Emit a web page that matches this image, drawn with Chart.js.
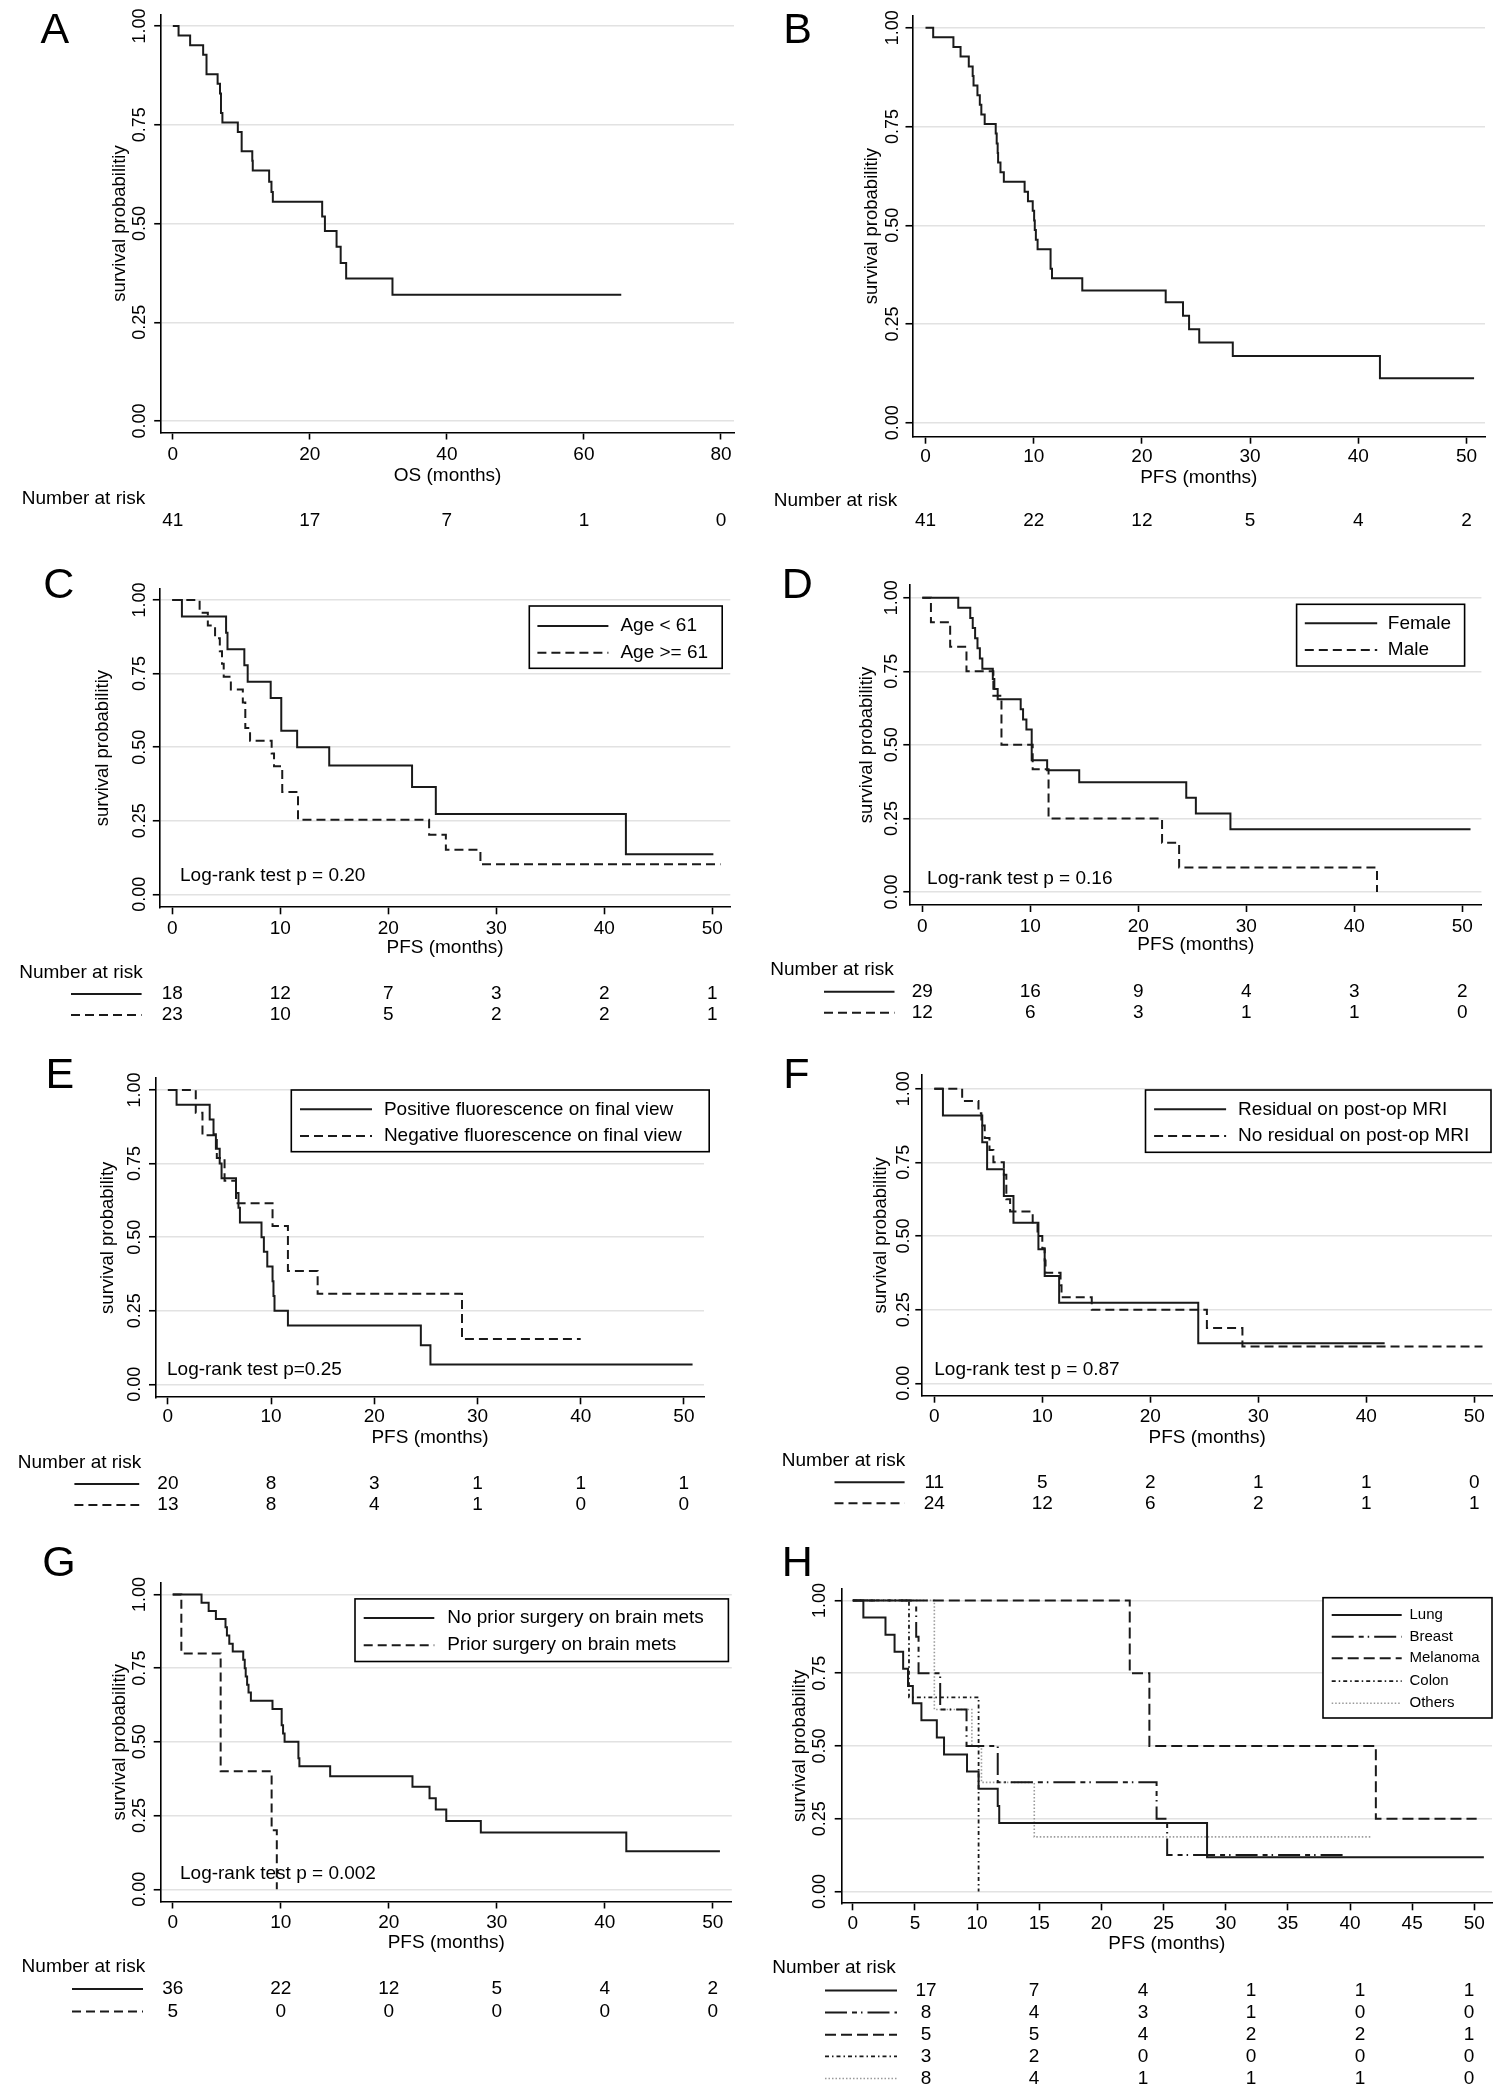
<!DOCTYPE html>
<html><head><meta charset="utf-8">
<script src="https://cdn.jsdelivr.net/npm/chart.js@4.4.1/dist/chart.umd.min.js"></script>
<style>
html,body{margin:0;padding:0;background:#fff}
body{position:relative;width:1503px;height:2100px;overflow:hidden}
canvas{position:absolute}
</style></head>
<body>
<script>
// ---------------- DATA ----------------
const ticksOS = [0, 20, 40, 60, 80];
const ticksPFS = [0, 10, 20, 30, 40, 50];
const ticksH = [0, 5, 10, 15, 20, 25, 30, 35, 40, 45, 50];
const yTickVals = [0, 0.25, 0.5, 0.75, 1];

// Panel A: OS
const aTime = [0, 0.84, 2.53, 4.43, 4.92, 6.54, 6.89, 7.03, 7.24, 9.49, 10.05, 11.6, 11.67, 14.06, 14.4, 14.6, 21.8, 22.2, 23.9, 24.5, 25.3, 32.06, 65.45];
const aSurv = [1, 0.976, 0.951, 0.927, 0.878, 0.854, 0.829, 0.780, 0.756, 0.732, 0.683, 0.659, 0.634, 0.606, 0.580, 0.555, 0.518, 0.481, 0.441, 0.400, 0.361, 0.320, 0.320];
const riskA = [41, 17, 7, 1, 0];

// Panel B: PFS
const bTime = [0, 0.71, 2.58, 3.24, 4.0, 4.36, 4.44, 4.8, 5.02, 5.16, 5.47, 6.49, 6.58, 6.67, 6.71, 6.93, 7.24, 9.16, 9.47, 9.91, 10.04, 10.1, 10.2, 10.36, 11.56, 11.69, 14.49, 22.2, 23.8, 24.36, 25.3, 28.4, 42.0, 50.7];
const bSurv = [1, 0.976, 0.951, 0.927, 0.902, 0.878, 0.854, 0.829, 0.805, 0.780, 0.756, 0.732, 0.707, 0.683, 0.659, 0.634, 0.610, 0.585, 0.561, 0.537, 0.512, 0.488, 0.463, 0.439, 0.390, 0.366, 0.335, 0.305, 0.271, 0.237, 0.203, 0.169, 0.113, 0.113];
const riskB = [41, 22, 12, 5, 4, 2];

// Panel C: age
const cYoungTime = [0, 0.89, 4.98, 5.11, 6.67, 6.98, 9.11, 10.09, 11.56, 14.53, 22.2, 24.4, 42.0, 50.1];
const cYoungSurv = [1, 0.944, 0.889, 0.833, 0.778, 0.722, 0.667, 0.556, 0.500, 0.438, 0.365, 0.273, 0.136, 0.136];
const cOldTime = [0, 2.53, 3.29, 3.96, 4.4, 4.6, 4.76, 5.42, 6.53, 6.76, 7.2, 9.2, 9.42, 10.18, 11.64, 23.78, 25.33, 28.53, 50.76];
const cOldSurv = [1, 0.957, 0.913, 0.870, 0.826, 0.783, 0.739, 0.696, 0.652, 0.565, 0.522, 0.478, 0.435, 0.348, 0.253, 0.202, 0.151, 0.102, 0.102];
const legendC = ['Age < 61', 'Age >= 61'];
const riskC = [[18, 12, 7, 3, 2, 1], [23, 10, 5, 2, 2, 1]];

// Panel D: sex
const dFemaleTime = [0, 3.33, 4.44, 4.67, 4.89, 5.11, 5.33, 5.56, 6.53, 6.67, 6.98, 9.11, 9.33, 9.64, 10.13, 11.56, 14.53, 24.44, 25.33, 28.53, 50.76];
const dFemaleSurv = [1, 0.966, 0.931, 0.897, 0.862, 0.828, 0.793, 0.759, 0.724, 0.690, 0.655, 0.621, 0.586, 0.552, 0.448, 0.414, 0.373, 0.320, 0.267, 0.213, 0.213];
const dMaleTime = [0, 0.8, 2.58, 4.09, 6.58, 7.33, 10.22, 11.69, 22.2, 23.78, 42.1];
const dMaleSurv = [1, 0.917, 0.833, 0.750, 0.667, 0.500, 0.417, 0.250, 0.167, 0.083, 0];
const legendD = ['Female', 'Male'];
const riskD = [[29, 16, 9, 4, 3, 2], [12, 6, 3, 1, 1, 0]];

// Panel E: fluorescence
const ePosTime = [0, 0.84, 4.05, 4.42, 4.65, 5.02, 5.2, 6.6, 6.84, 6.98, 9.07, 9.3, 9.63, 10.14, 10.23, 10.33, 11.63, 24.51, 25.44, 50.84];
const ePosSurv = [1, 0.95, 0.90, 0.85, 0.80, 0.75, 0.70, 0.65, 0.60, 0.55, 0.50, 0.45, 0.40, 0.35, 0.30, 0.25, 0.20, 0.133, 0.067, 0.067];
const eNegTime = [0, 2.7, 3.35, 4.74, 5.49, 6.6, 10.14, 11.63, 14.51, 28.5, 40.0];
const eNegSurv = [1, 0.923, 0.846, 0.769, 0.692, 0.615, 0.538, 0.385, 0.308, 0.154, 0.154];
const legendE = ['Positive fluorescence on final view', 'Negative fluorescence on final view'];
const riskE = [[20, 8, 3, 1, 1, 1], [13, 8, 4, 1, 0, 0]];

// Panel F: residual
const fResTime = [0, 0.8, 4.44, 4.89, 6.44, 7.33, 9.64, 10.22, 11.56, 24.44, 41.7];
const fResSurv = [1, 0.909, 0.818, 0.727, 0.636, 0.545, 0.455, 0.364, 0.273, 0.136, 0.136];
const fNoResTime = [0, 2.58, 4.09, 4.36, 4.67, 5.11, 5.47, 6.44, 6.67, 7.02, 9.11, 9.56, 10.0, 10.22, 10.3, 11.69, 11.78, 14.58, 25.24, 28.53, 50.76];
const fNoResSurv = [1, 0.958, 0.917, 0.875, 0.833, 0.792, 0.750, 0.708, 0.625, 0.583, 0.542, 0.500, 0.458, 0.417, 0.375, 0.333, 0.292, 0.250, 0.188, 0.125, 0.125];
const legendF = ['Residual on post-op MRI', 'No residual on post-op MRI'];
const riskF = [[11, 5, 2, 1, 1, 0], [24, 12, 6, 2, 1, 1]];

// Panel G: prior surgery
const gNoPriorTime = [0, 2.67, 3.33, 4.0, 4.89, 5.02, 5.24, 5.56, 6.53, 6.67, 6.76, 6.89, 7.02, 7.24, 9.24, 10.09, 10.22, 10.36, 11.64, 11.73, 14.58, 22.2, 23.78, 24.36, 25.33, 28.53, 42.0, 50.67];
const gNoPriorSurv = [1, 0.972, 0.944, 0.917, 0.889, 0.861, 0.833, 0.806, 0.778, 0.750, 0.722, 0.694, 0.667, 0.639, 0.611, 0.556, 0.528, 0.500, 0.444, 0.417, 0.383, 0.348, 0.309, 0.271, 0.232, 0.193, 0.129, 0.129];
const gPriorTime = [0, 0.8, 4.44, 9.16, 9.64];
const gPriorSurv = [1, 0.8, 0.4, 0.2, 0];
const legendG = ['No prior surgery on brain mets', 'Prior surgery on brain mets'];
const riskG = [[36, 22, 12, 5, 4, 2], [5, 0, 0, 0, 0, 0]];

// Panel H: primary tumour
const hLungTime = [0, 0.85, 2.63, 3.36, 4.05, 4.44, 4.83, 5.52, 6.76, 7.34, 9.19, 10.12, 11.66, 11.78, 28.5, 50.77];
const hLungSurv = [1, 0.941, 0.882, 0.824, 0.765, 0.706, 0.647, 0.588, 0.529, 0.471, 0.412, 0.353, 0.294, 0.235, 0.118, 0.118];
const hBreastTime = [0, 5.1, 5.29, 7.03, 9.15, 11.66, 24.44, 25.29, 39.58];
const hBreastSurv = [1, 0.875, 0.75, 0.625, 0.5, 0.375, 0.25, 0.125, 0.125];
const hMelTime = [0, 22.28, 23.86, 42.08, 50.19];
const hMelSurv = [1, 0.75, 0.5, 0.25, 0.25];
const hColonTime = [0, 4.52, 10.12];
const hColonSurv = [1, 0.667, 0];
const hOtherTime = [0, 6.56, 9.58, 10.35, 14.6, 41.7];
const hOtherSurv = [1, 0.625, 0.5, 0.375, 0.1875, 0.1875];
const legendH = ['Lung', 'Breast', 'Melanoma', 'Colon', 'Others'];
const riskH = [[17, 7, 4, 1, 1, 1], [8, 4, 3, 1, 0, 0], [5, 5, 4, 2, 2, 1], [3, 2, 0, 0, 0, 0], [8, 4, 1, 1, 1, 0]];

// ---------------- STYLE / LAYOUT ----------------
const FONT = '"Liberation Sans", Arial, Helvetica, sans-serif';
const INK = '#1a1a1a';
const STYLE = {
  solid: {dash: [], color: INK, width: 2},
  dash: {dash: [9, 5], color: INK, width: 2},
  longdashdot: {dash: [22, 5, 5, 4, 1.5, 5], color: INK, width: 2},
  longdash: {dash: [11, 5], color: INK, width: 2},
  dashdotdot: {dash: [4, 3, 1.5, 3], color: INK, width: 1.8},
  dot: {dash: [1.5, 2], color: '#9a9a9a', width: 1.6}
};

const panels = [
  {id: 'A', box: [0, 0, 752, 540], L: 161.2, R: 734, T: 14.5, B: 432.5, x0: 172.8, xu: 6.852, y1: 26.0, y0: 421.1,
   tickY: 454.3, titleY: 475.8, yTickX: 139.4, yTitleX: 120.4, letter: [40.5, 43], nar: [21.7, 498.3],
   riskY: [520.8], riskLine: null, riskX: null, xTicks: ticksOS, riskTicks: ticksOS, xTitle: 'OS (months)', yTitle: 'survival probabilitiy',
   series: [[aTime, aSurv, 'solid']], labels: null, risk: [riskA], legend: null, logrank: null},
  {id: 'B', box: [752, 0, 751, 540], L: 912.5, R: 1485, T: 15.6, B: 436.7, x0: 925.5, xu: 10.82, y1: 27.7, y0: 422.8,
   tickY: 456.7, titleY: 477.5, yTickX: 891.6, yTitleX: 872.4, letter: [783.3, 43], nar: [773.7, 500.7],
   riskY: [520.8], riskLine: null, riskX: null, xTicks: ticksPFS, riskTicks: ticksPFS, xTitle: 'PFS (months)', yTitle: 'survival probabilitiy',
   series: [[bTime, bSurv, 'solid']], labels: null, risk: [riskB], legend: null, logrank: null},
  {id: 'C', box: [0, 540, 752, 490], L: 159.8, R: 730.3, T: 589, B: 907.3, x0: 172.3, xu: 10.8, y1: 600, y0: 894.3,
   tickY: 928.3, titleY: 947.3, yTickX: 139.2, yTitleX: 103.2, letter: [43.2, 598.3], nar: [19.2, 972.3],
   riskY: [994, 1015], riskLine: [71, 141.6], riskX: null, xTicks: ticksPFS, riskTicks: ticksPFS, xTitle: 'PFS (months)', yTitle: 'survival probabilitiy',
   series: [[cYoungTime, cYoungSurv, 'solid'], [cOldTime, cOldSurv, 'dash']], labels: legendC, risk: riskC,
   legend: {box: [529.3, 606, 722.2, 668.3], sample: [537.4, 608.4], textX: 620.4, rows: [626, 652.7], size: 19},
   logrank: ['Log-rank test p = 0.20', 180, 875.7]},
  {id: 'D', box: [752, 540, 751, 490], L: 910.3, R: 1481.4, T: 585, B: 905, x0: 922.3, xu: 10.8, y1: 597.7, y0: 892,
   tickY: 926.7, titleY: 945, yTickX: 891.2, yTitleX: 867.2, letter: [781.8, 598.3], nar: [770.2, 970],
   riskY: [991.7, 1012.7], riskLine: [824, 894.5], riskX: null, xTicks: ticksPFS, riskTicks: ticksPFS, xTitle: 'PFS (months)', yTitle: 'survival probabilitiy',
   series: [[dFemaleTime, dFemaleSurv, 'solid'], [dMaleTime, dMaleSurv, 'dash']], labels: legendD, risk: riskD,
   legend: {box: [1296.6, 604.3, 1464.6, 666], sample: [1304.8, 1377.2], textX: 1387.8, rows: [623.3, 650], size: 19},
   logrank: ['Log-rank test p = 0.16', 927.1, 879]},
  {id: 'E', box: [0, 1030, 752, 490], L: 156, R: 704, T: 1078.3, B: 1397.3, x0: 167.9, xu: 10.32, y1: 1090, y0: 1384.3,
   tickY: 1416.7, titleY: 1437.3, yTickX: 134.4, yTitleX: 108, letter: [45.6, 1088], nar: [17.8, 1462.3],
   riskY: [1484, 1505], riskLine: [74.4, 139.2], riskX: null, xTicks: ticksPFS, riskTicks: ticksPFS, xTitle: 'PFS (months)', yTitle: 'survival probability',
   series: [[ePosTime, ePosSurv, 'solid'], [eNegTime, eNegSurv, 'dash']], labels: legendE, risk: riskE,
   legend: {box: [291.3, 1090, 709.2, 1151.7], sample: [300, 372], textX: 383.9, rows: [1109.3, 1136], size: 19},
   logrank: ['Log-rank test p=0.25', 167, 1370]},
  {id: 'F', box: [752, 1030, 751, 490], L: 922.3, R: 1492, T: 1075, B: 1395.7, x0: 934.3, xu: 10.8, y1: 1088.7, y0: 1383.3,
   tickY: 1416.7, titleY: 1437.3, yTickX: 903.2, yTitleX: 880.6, letter: [783.2, 1088], nar: [781.8, 1461],
   riskY: [1482.3, 1503.3], riskLine: [834.5, 904.6], riskX: null, xTicks: ticksPFS, riskTicks: ticksPFS, xTitle: 'PFS (months)', yTitle: 'survival probabilitiy',
   series: [[fResTime, fResSurv, 'solid'], [fNoResTime, fNoResSurv, 'dash']], labels: legendF, risk: riskF,
   legend: {box: [1145.5, 1090, 1491, 1152.3], sample: [1154.1, 1226.1], textX: 1238.1, rows: [1109.3, 1136], size: 19},
   logrank: ['Log-rank test p = 0.87', 934.3, 1370]},
  {id: 'G', box: [0, 1520, 752, 580], L: 160.7, R: 731.8, T: 1583, B: 1901.5, x0: 172.7, xu: 10.8, y1: 1594.4, y0: 1889.3,
   tickY: 1922.6, titleY: 1943, yTickX: 139.2, yTitleX: 120, letter: [42.2, 1575.5], nar: [21.6, 1967],
   riskY: [1989, 2011.5], riskLine: [72, 143], riskX: null, xTicks: ticksPFS, riskTicks: ticksPFS, xTitle: 'PFS (months)', yTitle: 'survival probabilitiy',
   series: [[gNoPriorTime, gNoPriorSurv, 'solid'], [gPriorTime, gPriorSurv, 'dash']], labels: legendG, risk: riskG,
   legend: {box: [355, 1598.9, 728.4, 1661.5], sample: [363.7, 434.3], textX: 447.2, rows: [1618.1, 1645.2], size: 19},
   logrank: ['Log-rank test p = 0.002', 180, 1873.7]},
  {id: 'H', box: [752, 1520, 751, 580], L: 841.7, R: 1492, T: 1588.5, B: 1903.3, x0: 852.8, xu: 12.43, y1: 1600.4, y0: 1891.5,
   tickY: 1923.7, titleY: 1944, yTickX: 819.2, yTitleX: 800, letter: [781.8, 1575.5], nar: [772.2, 1968],
   riskY: [1990.4, 2012.6, 2034.8, 2056.3, 2078.5], riskLine: [825, 897], riskX: [926, 1034, 1143, 1251, 1360, 1469],
   xTicks: ticksH, riskTicks: ticksPFS, xTitle: 'PFS (months)', yTitle: 'survival probability',
   series: [[hLungTime, hLungSurv, 'solid'], [hBreastTime, hBreastSurv, 'longdashdot'], [hMelTime, hMelSurv, 'longdash'], [hColonTime, hColonSurv, 'dashdotdot'], [hOtherTime, hOtherSurv, 'dot']],
   labels: legendH, risk: riskH,
   legend: {box: [1323, 1597.7, 1492, 1718], sample: [1331.7, 1401.7], textX: 1409.5, rows: [1615, 1636.7, 1658.3, 1681.2, 1703.3], size: 15},
   logrank: null}
];

Chart.defaults.color = '#000';
Chart.defaults.font.family = FONT;

function strokeSample(ctx, ds, x1, x2, y) {
  ctx.save();
  ctx.strokeStyle = ds.borderColor;
  ctx.lineWidth = ds.borderWidth;
  ctx.setLineDash(ds.borderDash || []);
  ctx.lineCap = 'butt';
  ctx.beginPath(); ctx.moveTo(x1, y); ctx.lineTo(x2, y); ctx.stroke();
  ctx.restore();
}

function extras(p) {
  return {
    id: 'extras' + p.id,
    afterDraw(chart) {
      const ctx = chart.ctx, ox = p.box[0], oy = p.box[1];
      const xs = chart.scales.x, ys = chart.scales.y;
      ctx.save();
      ctx.fillStyle = '#000';
      // y tick labels (rotated, read bottom-to-top)
      ctx.font = '18px ' + FONT; ctx.textAlign = 'center'; ctx.textBaseline = 'middle';
      ys.ticks.forEach(t => {
        const py = ys.getPixelForValue(t.value);
        ctx.save(); ctx.translate(p.yTickX - ox, py); ctx.rotate(-Math.PI / 2);
        ctx.fillText(t.value.toFixed(2), 0, 1); ctx.restore();
      });
      // panel letter
      ctx.font = '43px ' + FONT; ctx.textAlign = 'left'; ctx.textBaseline = 'alphabetic';
      ctx.fillText(p.id, p.letter[0] - ox, p.letter[1] - oy);
      // log-rank
      ctx.font = '19px ' + FONT; ctx.textBaseline = 'middle';
      if (p.logrank) ctx.fillText(p.logrank[0], p.logrank[1] - ox, p.logrank[2] - oy);
      // legend
      if (p.legend) {
        const lg = p.legend, b = lg.box;
        ctx.fillStyle = '#fff'; ctx.fillRect(b[0] - ox, b[1] - oy, b[2] - b[0], b[3] - b[1]);
        ctx.strokeStyle = '#000'; ctx.lineWidth = 1.6; ctx.setLineDash([]);
        ctx.strokeRect(b[0] - ox, b[1] - oy, b[2] - b[0], b[3] - b[1]);
        ctx.fillStyle = '#000'; ctx.font = lg.size + 'px ' + FONT; ctx.textAlign = 'left'; ctx.textBaseline = 'middle';
        chart.data.datasets.forEach((ds, i) => {
          const y = lg.rows[i] - oy;
          strokeSample(ctx, ds, lg.sample[0] - ox, lg.sample[1] - ox, y);
          ctx.fillText(ds.label, lg.textX - ox, y);
        });
      }
      // number at risk
      ctx.fillStyle = '#000'; ctx.font = '19px ' + FONT; ctx.textAlign = 'left'; ctx.textBaseline = 'middle';
      ctx.fillText('Number at risk', p.nar[0] - ox, p.nar[1] - oy);
      ctx.textAlign = 'center';
      p.risk.forEach((row, i) => {
        const y = p.riskY[i] - oy;
        row.forEach((n, j) => {
          const x = p.riskX ? p.riskX[j] - ox : xs.getPixelForValue(p.riskTicks[j]);
          ctx.fillText(String(n), x, y);
        });
        if (p.riskLine) strokeSample(ctx, chart.data.datasets[i], p.riskLine[0] - ox, p.riskLine[1] - ox, y);
      });
      ctx.restore();
    }
  };
}

panels.forEach(p => {
  const [bx, by, bw, bh] = p.box;
  const cv = document.createElement('canvas');
  cv.width = bw; cv.height = bh;
  cv.style.left = bx + 'px'; cv.style.top = by + 'px';
  cv.style.width = bw + 'px'; cv.style.height = bh + 'px';
  document.body.appendChild(cv);

  const yTitleLH = 18.5 * 1.2;
  const yw = p.L - p.yTitleX + yTitleLH / 2;
  const xh = p.titleY - p.B + 19 * 1.2 / 2;
  const tickPad = (p.tickY - p.B) - 7 - 19 * 1.2 / 2;
  const xmin = (p.L - p.x0) / p.xu, xmax = (p.R - p.x0) / p.xu;
  const yu = p.y0 - p.y1;
  const ymax = (p.y0 - p.T) / yu, ymin = (p.y0 - p.B) / yu;

  const datasets = p.series.map((s, i) => {
    const st = STYLE[s[2]];
    return {
      label: p.labels ? p.labels[i] : '',
      data: s[0].map((t, k) => ({x: t, y: s[1][k]})),
      stepped: true, pointRadius: 0, fill: false, tension: 0,
      borderColor: st.color, borderWidth: st.width, borderDash: st.dash,
      borderCapStyle: 'butt', borderJoinStyle: 'miter'
    };
  });

  new Chart(cv, {
    type: 'line',
    data: {datasets},
    options: {
      responsive: false, animation: false, devicePixelRatio: 1, events: [],
      layout: {padding: {left: p.L - bx - yw, right: bx + bw - p.R, top: p.T - by, bottom: by + bh - p.B - xh}},
      plugins: {legend: {display: false}, tooltip: {enabled: false}, title: {display: false}},
      scales: {
        x: {
          type: 'linear', position: 'bottom', min: xmin, max: xmax,
          afterBuildTicks: s => { s.ticks = p.xTicks.map(v => ({value: v})); },
          ticks: {autoSkip: false, maxRotation: 0, minRotation: 0, padding: tickPad, color: '#000',
                  font: {size: 19, family: FONT}, callback: v => String(v)},
          grid: {display: true, drawOnChartArea: false, drawTicks: true, tickLength: 7, tickColor: '#000', tickWidth: 1.6},
          border: {display: true, color: '#000', width: 1.6},
          title: {display: true, text: p.xTitle, color: '#000', font: {size: 19, family: FONT}, padding: 0},
          afterFit: s => { s.height = xh; s.paddingLeft = 0; s.paddingRight = 0; s.paddingTop = 0; s.paddingBottom = 0; }
        },
        y: {
          type: 'linear', position: 'left', min: ymin, max: ymax,
          afterBuildTicks: s => { s.ticks = yTickVals.map(v => ({value: v})); },
          ticks: {display: false, autoSkip: false},
          grid: {display: true, drawOnChartArea: true, color: '#e2e2e2', lineWidth: 1.5, drawTicks: true, tickLength: 7, tickColor: '#000', tickWidth: 1.6},
          border: {display: true, color: '#000', width: 1.6},
          title: {display: true, text: p.yTitle, color: '#000', font: {size: 18.5, family: FONT}, padding: 0},
          afterFit: s => { s.width = yw; s.paddingLeft = 0; s.paddingRight = 0; s.paddingTop = 0; s.paddingBottom = 0; }
        }
      }
    },
    plugins: [extras(p)]
  });
});
</script>
</body></html>
